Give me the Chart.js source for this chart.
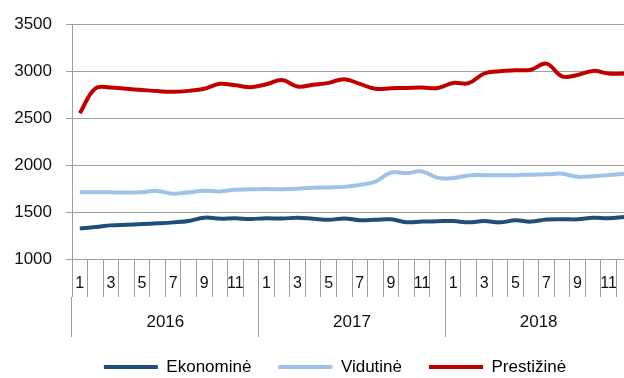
<!DOCTYPE html>
<html>
<head>
<meta charset="utf-8">
<script src="https://cdn.jsdelivr.net/npm/chart.js@4/dist/chart.umd.min.js"></script>
<style>
  html, body { margin: 0; padding: 0; background: #fff; overflow: hidden; }
  #wrap { width: 632px; height: 378px; }
</style>
</head>
<body>
<div id="wrap"><canvas id="c" width="632" height="378"></canvas></div>
<script>
// Monthly values, 2016–2018
const years = ['2016', '2017', '2018'];
const months = ['1', '2', '3', '4', '5', '6', '7', '8', '9', '10', '11', '12'];
const monthLabels = years.flatMap(() => months);

const seriesNames = ['Ekonominė', 'Vidutinė', 'Prestižinė'];
const seriesColors = ['#1F4E79', '#9DC3E6', '#C00000'];

const ekonomine = [
  1326, 1340, 1358, 1365, 1372, 1380, 1390, 1405, 1440, 1430, 1434, 1425,
  1435, 1430, 1440, 1428, 1417, 1432, 1413, 1418, 1422, 1392, 1398, 1403,
  1405, 1390, 1405, 1390, 1412, 1398, 1420, 1424, 1422, 1440, 1435, 1448
];
const vidutine = [
  1711, 1712, 1710, 1708, 1712, 1725, 1695, 1710, 1726, 1720, 1738, 1742,
  1745, 1743, 1748, 1758, 1762, 1768, 1788, 1823, 1920, 1915, 1932, 1865,
  1862, 1890, 1893, 1892, 1893, 1898, 1902, 1908, 1875, 1882, 1893, 1908
];
const prestizine = [
  2552, 2815, 2825, 2812, 2800, 2788, 2780, 2790, 2812, 2865, 2850, 2830,
  2860, 2905, 2836, 2855, 2875, 2915, 2865, 2812, 2818, 2822, 2825, 2820,
  2875, 2872, 2975, 3000, 3010, 3015, 3080, 2945, 2960, 3003, 2975, 2975
];

const yTicks = { min: 1000, max: 3500, step: 500 };

Chart.defaults.font.family = "'Liberation Sans', Arial, sans-serif";
Chart.defaults.color = '#111';

const gridGrey = '#9f9f9f';

const seriesData = [ekonomine, vidutine, prestizine];
const datasets = seriesNames.map((name, i) => ({
  label: name,
  data: seriesData[i],
  borderColor: seriesColors[i],
  backgroundColor: seriesColors[i],
  borderWidth: 4,
  pointRadius: 0,
  pointHoverRadius: 0,
  tension: 0.4,
  fill: false,
  xAxisID: 'x',
  yAxisID: 'y'
}));

// keeps the legend strip at a fixed height below the axes and nudges it right
const legendStrip = {
  id: 'legendStrip',
  afterInit(chart) {
    const lg = chart.legend;
    if (!lg) return;
    const fit = lg.fit;
    lg.fit = function () { fit.call(this); this.height = 46.5; };
  },
  afterLayout(chart) {
    const lg = chart.legend;
    if (!lg) return;
    lg.left += 19;
    lg.right += 19;
  }
};

new Chart(document.getElementById('c'), {
  type: 'line',
  data: { labels: monthLabels, datasets },
  plugins: [legendStrip],
  options: {
    responsive: false,
    animation: false,
    layout: { padding: { left: 0, top: 19, right: 0, bottom: 0 } },
    plugins: {
      tooltip: { enabled: false },
      legend: {
        position: 'bottom',
        labels: {
          font: { size: 17 },
          color: '#111',
          boxWidth: 54,
          boxHeight: 4,
          padding: 27,
          generateLabels: (chart) => chart.data.datasets.map((ds, i) => ({
            text: ds.label,
            fillStyle: ds.borderColor,
            strokeStyle: ds.borderColor,
            lineWidth: 0,
            hidden: false,
            datasetIndex: i
          }))
        }
      }
    },
    scales: {
      x: {
        type: 'category',
        position: 'bottom',
        offset: true,
        grid: {
          offset: true,
          drawOnChartArea: false,
          tickLength: 38,
          color: gridGrey,
          lineWidth: 1
        },
        border: { display: true, color: gridGrey, width: 1 },
        ticks: {
          autoSkip: false,
          maxRotation: 0,
          minRotation: 0,
          padding: -23,
          font: { size: 16 },
          color: '#111',
          callback: (v, i) => (i % 2 === 0 ? monthLabels[i] : '')
        },
        afterFit: (s) => { s.height = 38; }
      },
      x2: {
        type: 'category',
        position: 'bottom',
        labels: years,
        offset: true,
        grid: {
          offset: true,
          drawOnChartArea: false,
          tickLength: 40,
          color: gridGrey,
          lineWidth: 1
        },
        border: { display: false },
        ticks: {
          autoSkip: false,
          maxRotation: 0,
          padding: -25,
          font: { size: 17 },
          color: '#111'
        },
        afterFit: (s) => { s.height = 34.5; }
      },
      y: {
        type: 'linear',
        position: 'left',
        min: yTicks.min,
        max: yTicks.max,
        grid: { color: gridGrey, lineWidth: 1, tickLength: 6 },
        border: { display: true, color: gridGrey, width: 1 },
        ticks: {
          stepSize: yTicks.step,
          padding: 14,
          font: { size: 17 },
          color: '#111',
          callback: (v) => String(v)
        },
        afterFit: (s) => { s.width = 72; }
      }
    }
  }
});
</script>
</body>
</html>
